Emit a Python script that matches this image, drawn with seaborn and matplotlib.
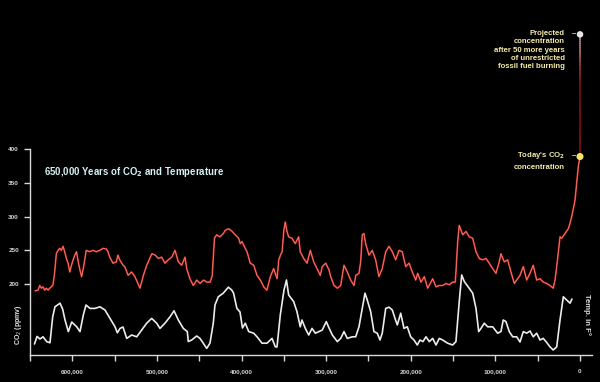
import numpy as np
import pandas as pd
import matplotlib
matplotlib.use("Agg")
import matplotlib.pyplot as plt
import seaborn as sns
from matplotlib.collections import LineCollection

# ---------------- data (thousands of years before present) ----------------
co2_kyr = [644, 640.5, 638.5, 636.6, 634.6, 632.6, 630.7, 628.7, 626.7, 624.8, 622.8, 620.8,
           618.9, 616.9, 614.9, 613, 611, 609, 607, 605, 603, 601, 599, 597, 595, 593, 591,
           589, 587, 583.5, 579.5, 575.5, 571.6, 567.6, 563.7, 559.8, 557.8, 555.8, 551.9,
           548, 546, 544, 540, 538, 534, 530, 526, 520, 516, 512, 506, 502, 498.4, 494.4,
           490.5, 486.6, 482.5, 478.6, 474.7, 470.7, 466.8, 464.8, 461, 457, 453, 449, 445,
           441, 437, 434.6, 432, 429.4, 425.5, 421.6, 419, 415, 411, 407.4, 403.4, 401.5,
           399.5, 395.6, 393.5, 389.7, 385.6, 381.7, 377.8, 373.8, 370, 366, 362, 358, 356,
           354, 352, 350, 348.3, 346.3, 344.3, 340.4, 336.5, 332.5, 330.6, 326.5, 322.6,
           318.7, 314.7, 310.8, 306.9, 304.6, 300.5, 296.6, 294.6, 290.7, 286.8, 282.8,
           278.9, 275, 271, 267, 265, 261.2, 259.2, 257.3, 255.3, 253.3, 249.4, 245.5,
           241.5, 237.6, 233.7, 229.6, 225.7, 221.8, 217.8, 213.9, 210, 206, 202, 198.2,
           194.2, 191.8, 187.9, 184, 180, 176.1, 174.1, 170.2, 166.3, 162.3, 158.4, 154.5,
           150.5, 147.4, 146.6, 144.5, 142.7, 140.6, 138.6, 134.7, 130.8, 126.8, 122.9,
           119, 115, 111.1, 107.2, 103.2, 99.3, 95.4, 93.4, 89.5, 85.5, 81.6, 77.6, 70.9,
           67, 63, 59.1, 55.2, 51.2, 47.3, 43.4, 39.4, 35.5, 31.6, 29.5, 27.5, 23.6, 21.6,
           17.7, 13.8, 11.8, 9.8, 5.9, 3.9, 2, 0]
co2_ppm = [190, 191, 198, 194, 196, 191, 194, 191, 194, 196, 199, 218,
           245, 250, 253, 250, 256, 248, 238, 231, 218, 228, 236, 243, 248, 233, 221,
           211, 223, 250, 248, 250, 248, 250, 253, 252, 248, 240, 231,
           233, 243, 236, 228, 226, 213, 218, 211, 194, 213, 228, 245, 243, 238, 240,
           231, 236, 240, 250, 233, 228, 240, 223, 208, 198, 206, 201, 206,
           203, 203, 213, 268, 273, 270, 275, 280, 282, 278, 273, 268, 260,
           263, 253, 248, 231, 228, 213, 206, 196, 191, 211, 223, 208, 236,
           243, 248, 280, 292, 278, 270, 268, 260, 270, 248, 238, 231,
           250, 233, 223, 213, 226, 231, 221, 211, 198, 194, 198,
           228, 218, 206, 198, 213, 216, 233, 273, 275, 260, 243, 250,
           236, 211, 223, 248, 256, 248, 236, 250, 248, 226, 231, 218,
           206, 216, 203, 211, 194, 203, 208, 196, 198, 198, 201, 199,
           203, 203, 218, 263, 287, 280, 273, 278, 270, 268, 248,
           238, 236, 238, 231, 223, 216, 233, 245, 233, 236, 218, 201, 213,
           226, 206, 216, 228, 206, 208, 203, 201, 198, 194, 206, 226, 270, 268,
           275, 282, 290, 300, 324, 349, 374, 389]

temp_kyr = [644.7, 641.7, 638.2, 634.6, 630.3, 626.4, 623.2, 620.5, 614.5, 611.4, 608.6,
            604.7, 600.7, 594.8, 590.9, 587, 583.8, 579.1, 573.2, 567.3, 561.4, 555.5,
            549.5, 546.8, 543.6, 540.1, 535.7, 529.8, 523.9, 518, 512.1, 506.2, 500.3,
            496.4, 490.5, 484.5, 479.8, 474.7, 468.8, 464.1, 462.9, 458.9, 453, 449.1,
            445.2, 441.2, 437.3, 433.4, 431.4, 427.5, 421.6, 415.6, 411.6, 409.4, 405.5,
            401.8, 398.9, 395.6, 391.5, 385.6, 381.7, 375.8, 369.9, 364, 360.1, 358.1,
            354.2, 349.8, 346.9, 344.3, 338.4, 334.5, 330.6, 328.6, 324.6, 320.6, 316.7,
            312.8, 308.5, 304.6, 299.8, 296.6, 292.7, 286.8, 282.8, 278.9, 275, 269.1,
            265.1, 261.2, 257.3, 254.1, 251.4, 247.4, 243.5, 239.6, 236.4, 233.7, 229.6,
            225.7, 221.8, 218.6, 215.9, 211.9, 208, 204.1, 200.1, 196.2, 192.3, 189.1,
            185.6, 182, 178.1, 174.1, 170.2, 166.3, 162.3, 156.4, 150.5, 146.6, 142.7,
            139.8, 136.7, 130.8, 126.8, 122.9, 119.7, 117, 113.1, 109.1, 103.2, 97.3,
            93.4, 90.7, 87.5, 83.6, 79.5, 74.8, 70.9, 67, 63, 59.1, 55.2, 51.2, 47.3,
            43.4, 39.4, 35.5, 31.6, 27.5, 23.6, 19.7, 15.7, 11.8, 9.5]
temp_f = [-11.0, -9.1, -9.75, -9.2, -10.4, -10.7, -4.25, -1.7, -0.8, -2.3, -5.0,
          -7.9, -5.5, -6.7, -7.9, -3.75, -1.25, -2.1, -2.1, -1.7, -2.5, -4.6,
          -6.7, -8.2, -7.1, -6.75, -9.6, -8.75, -9.2, -7.5, -5.8, -4.6, -5.8,
          -7.1, -5.8, -4.2, -2.7, -5.0, -7.1, -7.9, -10.4, -10.0, -9.0, -9.6,
          -10.8, -12.1, -10.8, -5.8, -1.25, 0.8, 1.7, 3.2, 2.5, 1.7, -2.1,
          -3.0, -7.0, -5.8, -7.9, -8.3, -9.2, -10.8, -10.8, -9.6, -11.7, -11.75,
          -3.75, 2.5, 5.0, 1.25, -0.4, -2.9, -6.7, -5.0, -7.1, -8.75, -7.1,
          -8.3, -7.9, -7.5, -5.4, -7.0, -8.75, -10.4, -9.6, -7.9, -9.6, -9.2,
          -9.2, -6.7, -2.1, 1.7, 0.0, -2.9, -7.9, -8.3, -10.0, -8.3, -2.1,
          -1.8, -2.5, -4.6, -6.25, -3.3, -7.1, -6.7, -9.2, -10.0, -11.25, -10.0,
          -10.4, -9.2, -10.4, -9.6, -11.25, -9.6, -10.0, -10.8, -11.25, -10.4, -0.4,
          6.25, 4.6, 2.9, 1.7, -2.1, -7.9, -7.1, -5.8, -6.7, -6.7, -8.3,
          -7.9, -5.0, -5.4, -7.9, -9.2, -9.2, -10.5, -7.9, -8.3, -7.75, -9.2, -8.3, -10.0,
          -9.6, -10.6, -11.7, -12.5, -11.7, -5.0, 0.8, 0.0, -0.8, 0.25]

today_kyr, today_ppm = 0.0, 389
proj_kyr, proj_ppm = -0.05, 570

ytick_vals = [200, 250, 300, 350, 400]
xtick_vals = list(range(650, -1, -50))
xtick_labels = {600: "600,000", 500: "500,000", 400: "400,000", 300: "300,000",
                200: "200,000", 100: "100,000", 0: "0"}

title_text = r"650,000 Years of CO$_\mathbf{2}$ and Temperature"
proj_text = "Projected\nconcentration\nafter 50 more years\nof unrestricted\nfossil fuel burning"
today_text = "Today's CO$_\\mathbf{2}$\nconcentration"

# ---------------- styling ----------------
sns.set_theme(style="dark")
narrow = ["Liberation Sans Narrow", "Liberation Sans", "DejaVu Sans"]
plt.rcParams["font.family"] = narrow

W, H = 600, 382
fig = plt.figure(figsize=(W / 100, H / 100), dpi=100, facecolor="black")
ax = fig.add_axes([30 / W, 27 / H, 562 / W, 355 / H])
ax.set_facecolor("black")

co2_df = pd.DataFrame({"kyr": co2_kyr, "ppm": co2_ppm})
temp_df = pd.DataFrame({"kyr": temp_kyr, "temp": temp_f})

sns.lineplot(data=co2_df, x="kyr", y="ppm", ax=ax, color="#dd2e22", linewidth=1.25,
             estimator=None, sort=False)
sns.lineplot(data=co2_df, x="kyr", y="ppm", ax=ax, color="#f5c8c0", linewidth=0.45,
             alpha=0.6, estimator=None, sort=False)

# projection segment with gradient (dark red -> grey)
seg_y = np.linspace(today_ppm, proj_ppm, 60)
seg_x = np.linspace(today_kyr, proj_kyr, 60)
pts = np.array([seg_x, seg_y]).T.reshape(-1, 1, 2)
segs = np.concatenate([pts[:-1], pts[1:]], axis=1)
t = np.linspace(0, 1, len(segs))
cols = [(0.5 + 0.25 * max(0, v - 0.6) / 0.4, 0.06 + 0.55 * max(0, v - 0.6) / 0.4,
         0.06 + 0.55 * max(0, v - 0.6) / 0.4) for v in t]
ax.add_collection(LineCollection(segs, colors=cols, linewidths=1.3, zorder=3))

ax.scatter([proj_kyr], [proj_ppm], s=22, color="#e6e6e6", zorder=5, edgecolor="none")
ax.scatter([today_kyr], [today_ppm], s=26, color="#f2e36a", zorder=5, edgecolor="none")

ax.set_xlim(650, -14.2)
ax.set_ylim(95, 620.9)

# temperature on hidden twin axis
ax2 = ax.twinx()
ax2.set_position(ax.get_position())
sns.lineplot(data=temp_df, x="kyr", y="temp", ax=ax2, color="#ececec", linewidth=1.2,
             estimator=None, sort=False)
ax2.set_ylim(-13.75, 75)
ax2.set_xlim(650, -14.2)
ax2.set_yticks([])
ax2.set_ylabel("")
for s in ax2.spines.values():
    s.set_visible(False)

# axes styling
for s in ["top", "right"]:
    ax.spines[s].set_visible(False)
for s in ["left", "bottom"]:
    ax.spines[s].set_visible(True)
    ax.spines[s].set_color("#d8d8d8")
    ax.spines[s].set_linewidth(1.0)
ax.spines["left"].set_bounds(95, 400)
ax.set_yticks(ytick_vals)
ax.set_yticklabels([str(v) for v in ytick_vals], fontweight="bold")
ax.set_xticks(xtick_vals)
ax.set_xticklabels([xtick_labels.get(v, "") for v in xtick_vals], fontweight="bold")
ax.tick_params(axis="both", colors="#d8d8d8", labelcolor="#d0d0d0", labelsize=4.6,
               length=4, width=1.0, direction="out", pad=6, bottom=True, left=True)
ax.tick_params(axis="y", pad=4)
ax.set_xlabel("")
ax.set_ylabel("")
ax.grid(False)

fig.text(19 / W, 1 - 325 / H, "CO$_2$ (ppmv)", rotation=90, color="#e0e0e0",
         fontsize=5, fontweight="bold", ha="center", va="center")
fig.text(587 / W, 1 - 314 / H, "Temp. in F°", rotation=270, color="#e0e0e0",
         fontsize=5.6, fontweight="bold", ha="center", va="center")

fig.text(44 / W, 1 - 172 / H, title_text, color="#d6f2f2", fontsize=6.9,
         fontweight="bold", ha="left", va="center")

fig.text(565 / W, 1 - 30 / H, proj_text, color="#f3e9a8", fontsize=5.6,
         fontweight="bold", ha="right", va="top", linespacing=1.25)
fig.text(574 / W, 1 - 34 / H, "–", color="#e6e6e6", fontsize=5.6, fontweight="bold",
         ha="center", va="center")
fig.text(565 / W, 1 - 150 / H, today_text, color="#f3e9a8", fontsize=5.6,
         fontweight="bold", ha="right", va="top", linespacing=1.6)
fig.text(574 / W, 1 - 156 / H, "–", color="#e6e6e6", fontsize=5.6, fontweight="bold",
         ha="center", va="center")

fig.savefig("out.png", dpi=100, facecolor="black")
